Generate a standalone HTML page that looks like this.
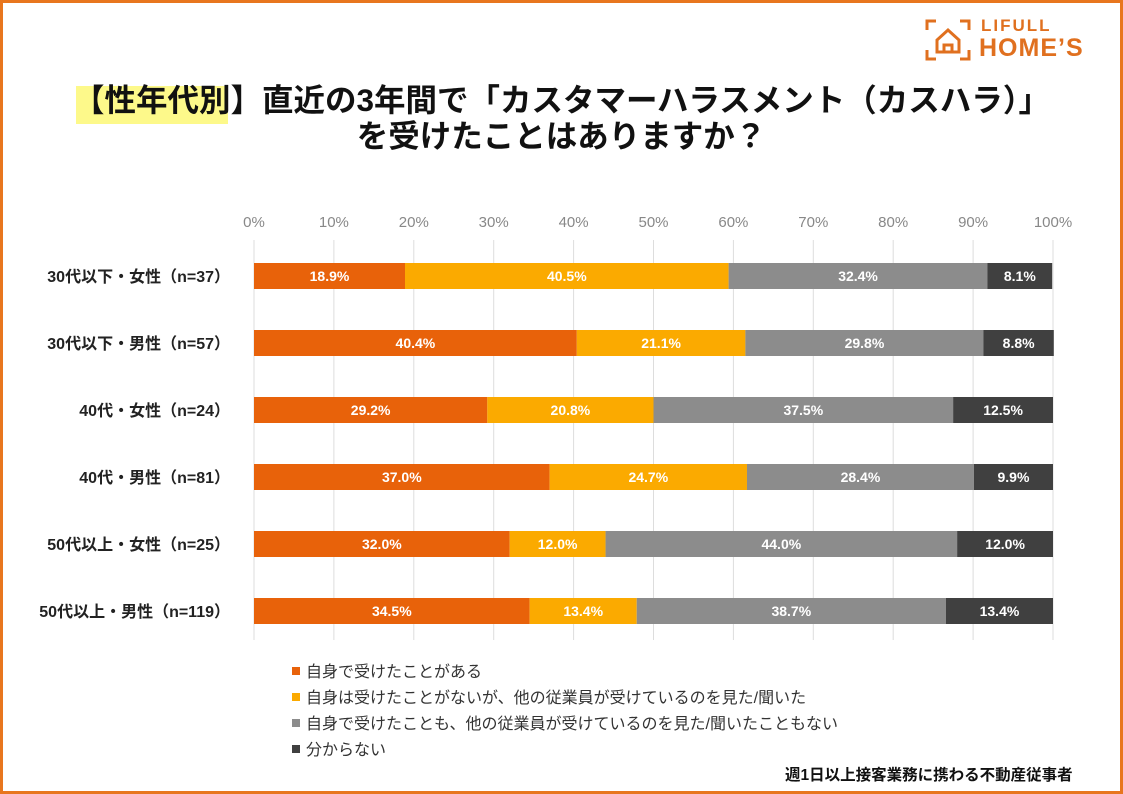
<!DOCTYPE html>
<html><head><meta charset="utf-8"><style>
body{margin:0;width:1123px;height:794px;overflow:hidden;background:#fff;font-family:"Liberation Sans","Noto Sans CJK JP",sans-serif}
#frame{position:absolute;left:0;top:0;width:1117px;height:788px;border:3px solid #e8761e}
.t{position:absolute;white-space:nowrap}
</style></head><body>
<div id="frame"></div>
<div class="t" style="left:925px;top:16px;width:180px;height:48px;color:#e0701f">
<svg width="46" height="44" style="position:absolute;left:0;top:2px"><g fill="none" stroke="#e0701f" stroke-width="3"><path d="M2 12V3h9M35 3h9v9M2 32v9h9M35 41h9v-9"/><path d="M12 34V22l11-10 11 10v12z"/><path d="M19 34v-7h8v7"/></g></svg>
<div class="t" style="left:56px;top:0;font-size:17px;font-weight:bold;letter-spacing:2px">LIFULL</div>
<div class="t" style="left:54px;top:18px;font-size:25px;font-weight:bold;letter-spacing:1px">HOME’S</div>
</div>
<div class="t" style="left:76px;top:86px;width:152px;height:38px;background:#fdf98a"></div>
<div class="t" style="left:0;width:1123px;top:82px;text-align:center;font-size:31.5px;font-weight:bold;line-height:36px;color:#111">【性年代別】直近の3年間で「カスタマーハラスメント（カスハラ）」<br>を受けたことはありますか？</div>
<svg id="c" width="1123" height="794" style="position:absolute;left:0;top:0"></svg>
<div class="t" style="left:785px;top:763px;font-size:15.5px;font-weight:bold;color:#111">週1日以上接客業務に携わる不動産従事者</div>
<script>
const categories=["30代以下・女性（n=37）","30代以下・男性（n=57）","40代・女性（n=24）","40代・男性（n=81）","50代以上・女性（n=25）","50代以上・男性（n=119）"];
const s1=[18.9,40.4,29.2,37.0,32.0,34.5];
const s2=[40.5,21.1,20.8,24.7,12.0,13.4];
const s3=[32.4,29.8,37.5,28.4,44.0,38.7];
const s4=[8.1,8.8,12.5,9.9,12.0,13.4];
const ticks=[0,10,20,30,40,50,60,70,80,90,100];
const seriesNames=["自身で受けたことがある","自身は受けたことがないが、他の従業員が受けているのを見た/聞いた","自身で受けたことも、他の従業員が受けているのを見た/聞いたこともない","分からない"];
const colors=["#e8620a","#fbaa00","#8c8c8c","#404040"];
const svg=document.getElementById('c');const NS="http://www.w3.org/2000/svg";
const x0=254,x1=1053,y0=276,dy=67,bh=26;
const X=v=>x0+(x1-x0)*v/100;const Y=i=>y0+i*dy;
function mk(t,a,p){const e=document.createElementNS(NS,t);for(const k in a)e.setAttribute(k,a[k]);(p||svg).appendChild(e);return e;}
ticks.forEach(t=>{
const l=mk('line',{x1:X(t),x2:X(t),y1:240,y2:640,stroke:'#ddd','stroke-width':1});


const tx=mk('text',{x:X(t),y:227,'text-anchor':'middle','font-size':15,fill:'#888'});tx.textContent=t+'%';


});
const series=[s1,s2,s3,s4];
categories.forEach((c,i)=>{
const lb=mk('text',{x:230,y:Y(i)+6,'text-anchor':'end','font-size':16,'font-weight':'bold',fill:'#222'});lb.textContent=c;


let acc=0;
series.forEach((s,j)=>{
const v=s[i];
const r=mk('rect',{x:X(acc),y:Y(i)-bh/2,width:X(acc+v)-X(acc),height:bh,fill:colors[j]});


const t=mk('text',{x:(X(acc)+X(acc+v))/2,y:Y(i)+5,'text-anchor':'middle','font-size':14,'font-weight':'bold',fill:'#fff'});t.textContent=v.toFixed(1)+'%';


acc+=v;});
});
seriesNames.forEach((n,j)=>{
const y=672+j*26;
const r=mk('rect',{x:292,y:y-5,width:8,height:8,fill:colors[j]});


const t=mk('text',{x:306,y:y+5,'font-size':16,fill:'#333'});t.textContent=n;


});
</script>
</body></html>
